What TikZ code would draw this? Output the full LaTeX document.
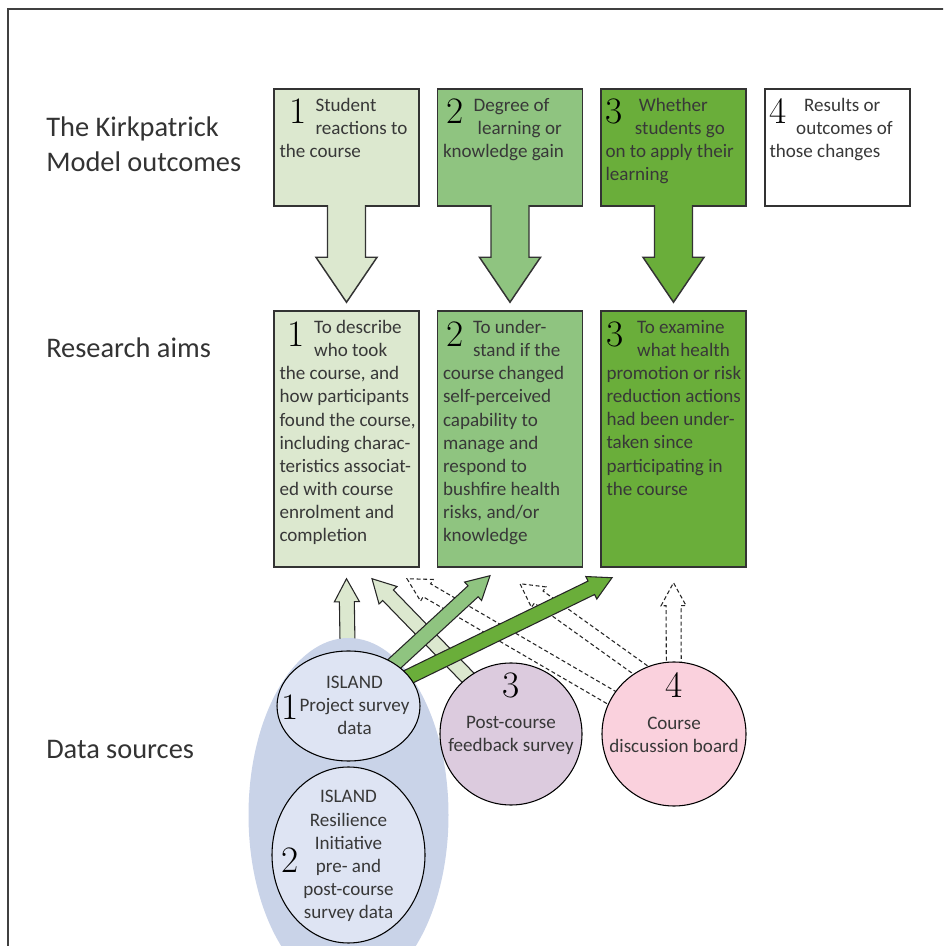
\documentclass[tikz,border=0pt]{standalone}
\usepackage{fontspec}
\newfontfamily\txt{Carlito}
\usetikzlibrary{calc,shapes.geometric,backgrounds}

\definecolor{lvl1}{HTML}{DCE8CF}
\definecolor{lvl2}{HTML}{8FC480}
\definecolor{lvl3}{HTML}{6AAE3A}
\definecolor{islblue}{HTML}{C9D3E8}
\definecolor{srcblue}{HTML}{DEE4F3}
\definecolor{srcmauve}{HTML}{DCCBDE}
\definecolor{srcpink}{HTML}{FAD1DD}

% fat outlined arrow: style, from, to, shaft half, head half, head length
\newcommand\fatarrow[6]{%
  \path (#2) coordinate (fatA) (#3) coordinate (fatB);
  \coordinate (fatC) at ($(fatB)!#6!(fatA)$);
  \draw[#1] ($(fatA)!#4!90:(fatB)$) -- ($(fatC)!#4!90:(fatB)$) -- ($(fatC)!#5!90:(fatB)$)
    -- (fatB) -- ($(fatC)!#5!-90:(fatB)$) -- ($(fatC)!#4!-90:(fatB)$) -- ($(fatA)!#4!-90:(fatB)$) -- cycle;}
% same, left open at the tail (joins the box above)
\newcommand\droparrow[6]{%
  \path (#2) coordinate (fatA) (#3) coordinate (fatB);
  \coordinate (fatC) at ($(fatB)!#6!(fatA)$);
  \draw[#1] ($(fatA)!#4!90:(fatB)$) -- ($(fatC)!#4!90:(fatB)$) -- ($(fatC)!#5!90:(fatB)$)
    -- (fatB) -- ($(fatC)!#5!-90:(fatB)$) -- ($(fatC)!#4!-90:(fatB)$) -- ($(fatA)!#4!-90:(fatB)$);}

\begin{document}
\begin{tikzpicture}[x=0.75pt, y=0.75pt,
  kbox/.style={draw=black!80, line width=1.1pt, minimum width=108.75pt, minimum height=87.75pt, inner sep=0},
  abox/.style={kbox, minimum height=192pt},
  txtnode/.style={font={\txt\fontsize{14.3}{17.3}\selectfont}, text=black!78, inner sep=0, align=left, anchor=north west},
  num/.style={font=\fontsize{28}{28}\selectfont, inner sep=0},
  rowlabel/.style={font={\txt\fontsize{21.3}{26}\selectfont}, text=black!80, inner sep=0, anchor=base west},
  srcell/.style={ellipse, draw, line width=0.8pt, fill=srcblue, inner sep=0},
  srccirc/.style={circle, draw, line width=0.8pt, inner sep=0},
  fatline/.style={draw=black!85, line width=0.8pt},
  fatdash/.style={fatline, fill=white, dash pattern=on 3pt off 2pt}]
\useasboundingbox (0,0) rectangle (943,946);
\clip (0,0) rectangle (943,946);
\draw[black!75, line width=1.3pt] (8,-20) -- (8,937) -- (980,937);

% row labels
\node[rowlabel] (lblk1) at (46,809) {The Kirkpatrick};
\node[rowlabel] (lblk2) at (46,774) {Model outcomes};
\node[rowlabel] (lbla) at (46,588) {Research aims};
\node[rowlabel] (lbld) at (46,187) {Data sources};

% Kirkpatrick outcomes
\node[kbox, fill=lvl1] (kp1) at (346.5,798.5) {};
\node[kbox, fill=lvl2] (kp2) at (510,798.5) {};
\node[kbox, fill=lvl3] (kp3) at (673.5,798.5) {};
\node[kbox, fill=white] (kp4) at (837.5,798.5) {};
\node[num] at ($(kp1.north west)+(25,-23)$) {1};
\node[num] at ($(kp2.north west)+(18,-23)$) {2};
\node[num] at ($(kp3.north west)+(14,-23)$) {3};
\node[num] at ($(kp4.north west)+(14,-23)$) {4};
\node[txtnode] at ($(kp1.north west)+(6,-10)$) {\hspace*{27pt}Student\\\hspace*{27pt}reactions to\\the course};
\node[txtnode] at ($(kp2.north west)+(6,-10)$) {\hspace*{23pt}Degree of\\\hspace*{26pt}learning or\\knowledge gain};
\node[txtnode] at ($(kp3.north west)+(5,-10)$) {\hspace*{25pt}Whether\\\hspace*{22pt}students go\\on to apply their\\learning};
\node[txtnode] at ($(kp4.north west)+(5,-10)$) {\hspace*{26pt}Results or\\\hspace*{20pt}outcomes of\\those changes};

% research aims
\node[abox, fill=lvl1] (aim1) at (346.5,507) {};
\node[abox, fill=lvl2] (aim2) at (510,507) {};
\node[abox, fill=lvl3] (aim3) at (673.5,507) {};
\node[num] at ($(aim1.north west)+(23,-24)$) {1};
\node[num] at ($(aim2.north west)+(18,-24)$) {2};
\node[num] at ($(aim3.north west)+(15,-24)$) {3};
\node[txtnode] at ($(aim1.north west)+(6,-10)$) {\hspace*{26pt}To describe\\\hspace*{26pt}who took\\the course, and\\how participants\\found the course,\\including charac-\\teristics associat-\\ed with course\\enrolment and\\completion};
\node[txtnode] at ($(aim2.north west)+(6,-10)$) {\hspace*{22.5pt}To under-\\\hspace*{22.5pt}stand if the\\course changed\\self-perceived\\capability to\\manage and\\respond to\\bushfire health\\risks, and/or\\knowledge};
\node[txtnode] at ($(aim3.north west)+(6,-10)$) {\hspace*{23pt}To examine\\\hspace*{23pt}what health\\promotion or risk\\reduction actions\\had been under-\\taken since\\participating in\\the course};

\foreach \i in {1,2,3}
  \droparrow{fill=lvl\i, draw=black!80, line width=1.1pt}{$(kp\i.south)+(0,1.5)$}{$(aim\i.north)+(0,8)$}{14.25pt}{22.9pt}{33.75pt};

% data sources
\node[srcell, minimum width=107.25pt, minimum height=82.5pt] (src1) at (348.5,240) {};
\node[srcell, minimum width=114.75pt, minimum height=132pt] (src2) at (348.5,91) {};
\node[srccirc, fill=srcmauve, minimum size=106.5pt] (src3) at (511,212) {};
\node[srccirc, fill=srcpink, minimum size=108pt] (src4) at (674,212) {};
\node[num] at ($(src1)+(-58.5,-1)$) {1};
\node[num] at ($(src2)+(-58.5,-5)$) {2};
\node[num] at ($(src3)+(0,49)$) {3};
\node[num] at ($(src4)+(0,49)$) {4};
\node[txtnode, align=center, anchor=center] at ($(src1)+(6,1)$) {ISLAND\\Project survey\\data};
\node[txtnode, align=center, anchor=center] at ($(src2)+(0,-1)$) {ISLAND\\Resilience\\Initiative\\pre- and\\post-course\\survey data};
\node[txtnode, align=center, anchor=center] at ($(src3)+(0,-1)$) {Post-course\\feedback survey};
\node[txtnode, align=center, anchor=center] at ($(src4)+(0,-1)$) {Course\\discussion board};

% links from data sources to aims
\begin{scope}[on background layer]
  \fatarrow{fatline, fill=lvl1}{src1}{$(aim1.south)+(0,-11)$}{5.6pt}{9.4pt}{17.25pt}
  \node[ellipse, fill=islblue, minimum width=150pt, minimum height=265.5pt, inner sep=0] (isl) at (348.5,131) {};
  \fatarrow{fatdash}{src4}{$(aim1.south)+(60.5,-11)$}{5.6pt}{9.4pt}{17.25pt}
  \fatarrow{fatdash}{$(src4)+(0,40)$}{$(aim2.south)+(10,-16)$}{5.6pt}{9.4pt}{17.25pt}
  \fatarrow{fatdash}{src4}{$(aim3.south)+(0,-15)$}{5.6pt}{9.4pt}{17.25pt}
  \fatarrow{fatline, fill=lvl1}{$(src3)+(0,12)$}{$(aim1.south)+(25.5,-11)$}{5.6pt}{9.4pt}{17.25pt}
  \fatarrow{fatline, fill=lvl2}{src1}{$(aim2.south)+(-20,-8)$}{5.6pt}{9.4pt}{17.25pt}
  \fatarrow{fatline, fill=lvl3}{src1}{$(aim3.south)+(-61.5,-10)$}{5.6pt}{9.4pt}{17.25pt}
\end{scope}
\end{tikzpicture}
\end{document}
